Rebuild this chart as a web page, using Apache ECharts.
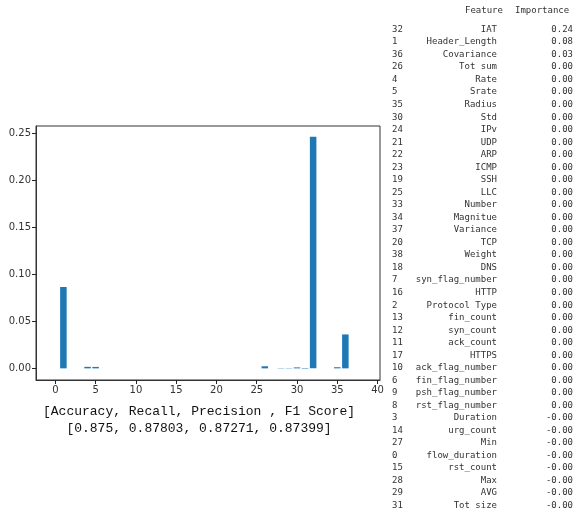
<!DOCTYPE html>
<html><head><meta charset="utf-8">
<script src="https://cdn.jsdelivr.net/npm/echarts@6/dist/echarts.min.js"></script>
<style>html,body{margin:0;padding:0;background:#fff}#c{width:584px;height:514px}</style>
</head><body><div id="c"></div>
<script>
var featureNames = ["flow_duration","Header_Length","Protocol Type","Duration","Rate","Srate",
 "fin_flag_number","syn_flag_number","rst_flag_number","psh_flag_number","ack_flag_number",
 "ack_count","syn_count","fin_count","urg_count","rst_count","HTTP","HTTPS","DNS","SSH","TCP",
 "UDP","ARP","ICMP","IPv","LLC","Tot sum","Min","Max","AVG","Std","Tot size","IAT","Number",
 "Magnitue","Radius","Covariance","Variance","Weight"];
var importances = [-0.00003,0.0866,0,-0.00001,0.0016,0.0015,
 0,0,0,0,0,
 0,0,0,-0.00002,-0.00003,0,0,0,0,0,
 0,0,0,0,0,0.0022,-0.00003,-0.0003,-0.0003,0.0010,-0.0005,0.2465,0,
 0,0.0012,0.0361,0,0];
var tableOrder = [32,1,36,26,4,5,35,30,24,21,22,23,19,25,33,34,37,20,38,18,7,16,2,13,12,11,17,10,6,9,8,3,14,27,0,15,28,29,31];
var xTicks = [0,5,10,15,20,25,30,35,40];
var yTicks = [0,0.05,0.10,0.15,0.20,0.25];
var metricsHeader = "[Accuracy, Recall, Precision , F1 Score]";
var metricsValues = "[0.875, 0.87803, 0.87271, 0.87399]";

function fmt2(v){
  var s = (Math.floor(Math.abs(v)*100)/100).toFixed(2);
  return (v < 0 ? '-' : '') + s;
}

var chart = echarts.init(document.getElementById('c'), null, {renderer:'canvas'});
var barData = importances.map(function(v,i){return [i,v];});

var graphics = [];
var mono = "'DejaVu Sans Mono', monospace";
graphics.push({type:'text', left:465, top:6, style:{text:'Feature', font:'9px '+mono, fill:'#333'}});
graphics.push({type:'text', left:515, top:6, style:{text:'Importance', font:'9px '+mono, fill:'#333'}});
tableOrder.forEach(function(idx, r){
  var y = 29.5 + r*12.53;
  graphics.push({type:'text', x:392, y:y, style:{text:String(idx), font:'9px '+mono, fill:'#333', align:'left', verticalAlign:'middle'}});
  graphics.push({type:'text', x:497, y:y, style:{text:featureNames[idx], font:'9px '+mono, fill:'#333', align:'right', verticalAlign:'middle'}});
  graphics.push({type:'text', x:573, y:y, style:{text:fmt2(importances[idx]), font:'9px '+mono, fill:'#333', align:'right', verticalAlign:'middle'}});
});
var cour = "'Liberation Mono', 'Courier New', monospace";
graphics.push({type:'text', x:199, y:412, style:{text:metricsHeader, font:'13px '+cour, fill:'#111', align:'center', verticalAlign:'middle'}});
graphics.push({type:'text', x:199, y:429, style:{text:metricsValues, font:'13px '+cour, fill:'#111', align:'center', verticalAlign:'middle'}});

chart.setOption({
  animation:false,
  grid:{left:36, right:204, top:126, bottom:134, show:true, borderColor:'#333', borderWidth:1, backgroundColor:'#fff'},
  xAxis:{type:'value', min:-2.4, max:40.3,
    axisLine:{show:true, onZero:false, lineStyle:{color:'#333', width:1}}, splitLine:{show:false},
    axisTick:{show:true, inside:false, customValues:xTicks, length:4, lineStyle:{color:'#222', width:1}},
    axisLabel:{customValues:xTicks, color:'#333', fontSize:10, fontFamily:'DejaVu Sans', margin:5}},
  yAxis:{type:'value', min:-0.0124, max:0.258,
    axisLine:{show:true, onZero:false, lineStyle:{color:'#333', width:1}}, splitLine:{show:false},
    axisTick:{show:true, inside:false, customValues:yTicks, length:4, lineStyle:{color:'#222', width:1}},
    axisLabel:{customValues:yTicks, color:'#333', fontSize:10, fontFamily:'DejaVu Sans', margin:5,
      formatter:function(v){return v.toFixed(2);}}},
  series:[{type:'bar', data:barData, barWidth:6.5, itemStyle:{color:'#1f77b4'}}],
  graphic:graphics
});
</script></body></html>
